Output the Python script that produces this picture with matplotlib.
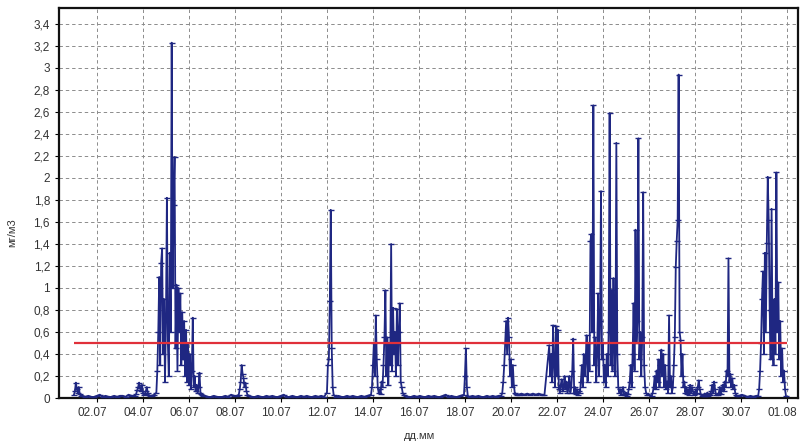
import numpy as np
import matplotlib.pyplot as plt
from matplotlib import transforms

# time axis: hours since 01.07 00:00
# hourly readings during episodes (start hour, values, mg/m3)
ep_starts = [0, 64, 86, 172, 264, 310, 407, 446, 496, 528, 603, 672, 714]
ep_vals = [
    [0.03, 0.06, 0.14, 0.08, 0.05, 0.10, 0.04, 0.02],
    [0.02, 0.04, 0.07, 0.10, 0.14, 0.09, 0.06, 0.12, 0.05, 0.03, 0.04, 0.06,
     0.10, 0.05, 0.03, 0.02],
    [0.05, 0.25, 0.60, 1.10, 0.30, 1.23, 1.36, 0.40, 0.90, 0.15, 0.70, 1.82,
     0.50, 0.20, 1.32, 0.60, 3.23, 1.00, 1.75, 2.19, 0.45, 1.03, 0.25, 1.00,
     0.60, 0.95, 0.30, 0.78, 0.35, 0.70, 0.20, 0.62, 0.15, 0.50, 0.12, 0.40,
     0.08, 0.25, 0.73, 0.10, 0.20, 0.06, 0.12, 0.05, 0.10, 0.23, 0.05, 0.04,
     0.03, 0.02],
    [0.03, 0.08, 0.15, 0.30, 0.22, 0.18, 0.10, 0.14, 0.06, 0.03],
    [0.05, 0.30, 0.35, 0.88, 1.71, 0.45, 0.10, 0.03],
    [0.03, 0.10, 0.30, 0.50, 0.20, 0.75, 0.35, 0.10, 0.05, 0.08, 0.04, 0.15,
     0.10, 0.30, 0.55, 0.98, 0.20, 0.55, 0.12, 0.50, 0.30, 1.40, 0.25, 0.82,
     0.40, 0.60, 0.20, 0.81, 0.30, 0.60, 0.86, 0.15, 0.10, 0.05, 0.03],
    [0.03, 0.20, 0.45, 0.10, 0.02],
    [0.02, 0.05, 0.15, 0.30, 0.50, 0.70, 0.40, 0.73, 0.55, 0.20, 0.35, 0.10,
     0.30, 0.12, 0.05, 0.04, 0.03],
    [0.48, 0.20, 0.40, 0.15, 0.66, 0.30, 0.10, 0.65, 0.20, 0.62, 0.08, 0.05,
     0.12, 0.17, 0.06, 0.10, 0.20, 0.08, 0.15, 0.05, 0.10, 0.20, 0.05, 0.10,
     0.25, 0.54, 0.05, 0.10, 0.04, 0.08, 0.03, 0.06],
    [0.05, 0.15, 0.30, 0.10, 0.40, 0.20, 0.35, 0.57, 0.15, 0.50, 0.25, 1.43,
     1.49, 0.60, 2.66, 0.30, 0.55, 0.15, 0.40, 0.95, 0.20, 0.70, 1.88, 0.35,
     0.50, 0.15, 0.30, 0.10, 0.40, 0.20, 0.60, 2.59, 0.30, 0.98, 0.25, 1.09,
     0.50, 0.20, 2.32, 0.40, 0.10, 0.05, 0.08, 0.03, 0.06, 0.10, 0.04, 0.03,
     0.05, 0.02, 0.04, 0.08, 0.15, 0.30, 0.10, 0.40, 0.86, 0.25, 1.53, 0.50,
     0.70, 2.36, 0.35, 0.60, 0.20, 0.55, 1.87, 0.30, 0.10, 0.05, 0.03],
    [0.02, 0.05, 0.10, 0.20, 0.08, 0.25, 0.15, 0.35, 0.10, 0.30, 0.44, 0.20,
     0.40, 0.10, 0.30, 0.08, 0.15, 0.05, 0.75, 0.10, 0.20, 0.05, 0.10, 0.30,
     0.55, 1.19, 1.43, 1.62, 2.94, 0.60, 0.53, 0.20, 0.40, 0.10, 0.15, 0.05,
     0.10, 0.04, 0.08, 0.03, 0.12, 0.05, 0.10, 0.06, 0.03, 0.04, 0.08, 0.05,
     0.10, 0.16, 0.08, 0.04, 0.02, 0.03, 0.02, 0.04, 0.02, 0.03, 0.05, 0.02,
     0.04, 0.03, 0.06, 0.12, 0.05, 0.15, 0.08, 0.03],
    [0.03, 0.05, 0.10, 0.04, 0.08, 0.12, 0.06, 0.15, 0.10, 0.25, 0.20, 1.27,
     0.15, 0.22, 0.10, 0.18, 0.08, 0.12, 0.05, 0.03, 0.02],
    [0.02, 0.08, 0.25, 0.50, 0.90, 1.15, 0.40, 1.32, 0.60, 1.41, 2.01, 1.62,
     0.80, 0.35, 1.72, 0.50, 0.30, 0.90, 0.40, 2.05, 0.60, 1.05, 0.35, 0.70,
     0.20, 0.45, 0.15, 0.25, 0.08, 0.02],
]

# quiet background readings, every 3 hours
base_starts = [9, 81, 137, 183, 273, 346, 413, 464, 600, 694]
base_vals = [
    [0.02, 0.01, 0.02, 0.01, 0.01, 0.02, 0.03, 0.01, 0.02, 0.01, 0.01, 0.02,
     0.01, 0.02, 0.02, 0.01, 0.03, 0.02],
    [0.02, 0.03],
    [0.02, 0.01, 0.01, 0.02, 0.01, 0.01, 0.01, 0.02, 0.01, 0.03, 0.02, 0.02],
    [0.02, 0.01, 0.01, 0.02, 0.01, 0.01, 0.02, 0.01, 0.02, 0.01, 0.01, 0.02,
     0.03, 0.01, 0.01, 0.02, 0.01, 0.01, 0.02, 0.01, 0.02, 0.01, 0.01, 0.02,
     0.01, 0.02, 0.01],
    [0.01, 0.02, 0.01, 0.01, 0.02, 0.01, 0.02, 0.01, 0.01, 0.02, 0.01, 0.02],
    [0.02, 0.01, 0.01, 0.02, 0.01, 0.02, 0.01, 0.01, 0.02, 0.01, 0.02, 0.01,
     0.01, 0.02, 0.03, 0.01, 0.02, 0.01, 0.01, 0.02],
    [0.01, 0.02, 0.01, 0.02, 0.01, 0.01, 0.02, 0.01, 0.02, 0.01, 0.02],
    [0.03, 0.04, 0.03, 0.04, 0.03, 0.04, 0.03, 0.04, 0.03, 0.03],
    [0.03],
    [0.02, 0.03, 0.02, 0.01, 0.02, 0.01, 0.02],
]

limit = 0.5
tick_hours = list(range(24, 745, 48))
tick_labels = ["02.07", "04.07", "06.07", "08.07", "10.07", "12.07", "14.07",
               "16.07", "18.07", "20.07", "22.07", "24.07", "26.07", "28.07",
               "30.07", "01.08"]
y_ticks = [round(0.2 * i, 1) for i in range(18)]

t, c = [], []
for s, vals in zip(ep_starts, ep_vals):
    t += [s + i for i in range(len(vals))]
    c += vals
for s, vals in zip(base_starts, base_vals):
    t += [s + 3 * i for i in range(len(vals))]
    c += vals
order = np.argsort(t)
t = np.array(t)[order]
c = np.array(c)[order]

plt.rcParams["font.family"] = ["Liberation Sans", "DejaVu Sans"]
fig = plt.figure(figsize=(8.06, 4.48), dpi=100)
ax = fig.add_axes([0.0732, 0.1116, 0.9168, 0.8705])

ax.plot(t, c, color="#1f2782", lw=1.3, marker="_", ms=4, mew=1.0, zorder=3)
ax.hlines(limit, 0, 744, color="#e0303a", lw=1.6, zorder=4)

ax.set_xlim(-15.6, 755.5)
ax.set_ylim(0, 3.545)
ax.set_xticks(tick_hours)
ax.set_xticklabels(tick_labels)
ax.set_yticks(y_ticks)
ax.set_yticklabels([f"{v:g}".replace(".", ",") for v in y_ticks])
ax.tick_params(labelsize=8.5, labelcolor="#333333", length=3, width=0.8)
shift = transforms.ScaledTranslation(-5 / 100, 0, fig.dpi_scale_trans)
for lab in ax.get_xticklabels():
    lab.set_transform(lab.get_transform() + shift)

ax.grid(True, color="#8c8c8c", ls=(0, (3.5, 3)), lw=0.7)
ax.set_axisbelow(True)
for sp in ax.spines.values():
    sp.set_linewidth(1.6)
    sp.set_color("#111111")

fig.text(0.015, 0.48, "мг/м3", rotation=90, fontsize=8, color="#333333",
         ha="center", va="center")
fig.text(0.521, 0.027, "дд.мм", fontsize=8, color="#333333", ha="center",
         va="center")

fig.savefig("out.png", dpi=100)
